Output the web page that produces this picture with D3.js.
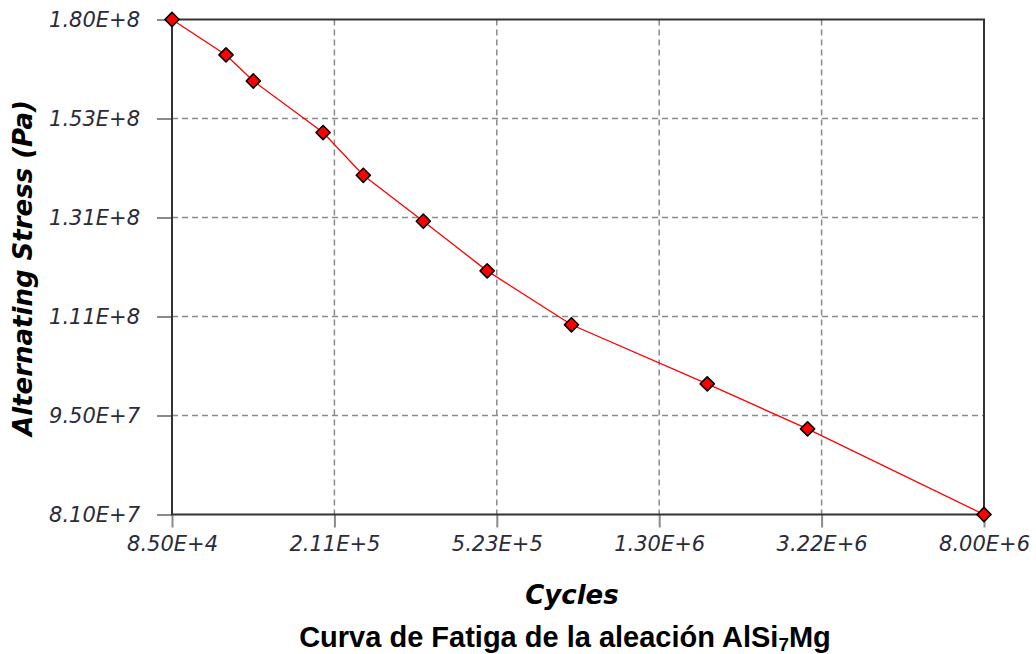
<!DOCTYPE html>
<html><head><meta charset="utf-8">
<script src="https://cdn.jsdelivr.net/npm/d3@7"></script>
<style>body{margin:0;background:#fff}svg{display:block}</style>
</head><body>
<script>
const cycles = [8.5e4, 1.15e5, 1.34e5, 1.98e5, 2.48e5, 3.47e5, 4.96e5, 7.95e5, 1.70e6, 2.98e6, 8.0e6];
const stress = [1.80e8, 1.70e8, 1.63e8, 1.50e8, 1.40e8, 1.30e8, 1.20e8, 1.10e8, 1.00e8, 9.30e7, 8.10e7];
const xTickLabels = ["8.50E+4", "2.11E+5", "5.23E+5", "1.30E+6", "3.22E+6", "8.00E+6"];
const yTickLabels = ["8.10E+7", "9.50E+7", "1.11E+8", "1.31E+8", "1.53E+8", "1.80E+8"];
const xDomain = [8.5e4, 8.0e6];
const yDomain = [8.1e7, 1.8e8];

const W = 1036, H = 654;
const m = {left: 172, right: 1036 - 984, top: 19.5, bottom: 654 - 514.5};
const svg = d3.select("body").append("svg").attr("width", W).attr("height", H);

const x = d3.scaleLog().domain(xDomain).range([m.left, W - m.right]);
const y = d3.scaleLog().domain(yDomain).range([H - m.bottom, m.top]);

const nT = xTickLabels.length;
const xTicks = xTickLabels.map((_, i) => xDomain[0] * Math.pow(xDomain[1] / xDomain[0], i / (nT - 1)));
const yTicks = yTickLabels.map((_, i) => yDomain[0] * Math.pow(yDomain[1] / yDomain[0], i / (nT - 1)));

// grid
const grid = svg.append("g");
grid.selectAll(".gx").data(xTicks.slice(1, -1)).join("line")
  .attr("x1", d => x(d)).attr("x2", d => x(d))
  .attr("y1", m.top).attr("y2", H - m.bottom)
  .attr("stroke", "#8a8a8a").attr("stroke-width", 1.5).attr("stroke-dasharray", "6,4");
grid.selectAll(".gy").data(yTicks.slice(1, -1)).join("line")
  .attr("y1", d => y(d)).attr("y2", d => y(d))
  .attr("x1", m.left).attr("x2", W - m.right)
  .attr("stroke", "#8a8a8a").attr("stroke-width", 1.5).attr("stroke-dasharray", "6,4");

// axes
const xAxis = d3.axisBottom(x).tickValues(xTicks).tickSize(13).tickPadding(9)
  .tickFormat((d, i) => xTickLabels[i]);
const yAxis = d3.axisLeft(y).tickValues(yTicks).tickSize(15).tickPadding(17)
  .tickFormat((d, i) => yTickLabels[i]);

const gx = svg.append("g").attr("transform", `translate(0,${H - m.bottom})`).call(xAxis);
const gy = svg.append("g").attr("transform", `translate(${m.left},0)`).call(yAxis);
[gx, gy].forEach(g => {
  g.select(".domain").remove();
  g.selectAll(".tick line").attr("stroke", "#8a8a8a").attr("stroke-width", 2);
  g.selectAll(".tick text").attr("fill", "#2b2b3a")
    .style("font-family", "'DejaVu Sans', Verdana, sans-serif")
    .style("font-style", "italic").style("font-size", "21px");
});

// frame
svg.append("rect").attr("x", m.left).attr("y", m.top)
  .attr("width", W - m.right - m.left).attr("height", H - m.bottom - m.top)
  .attr("fill", "none").attr("stroke", "#333").attr("stroke-width", 2);

// line
const pts = cycles.map((c, i) => [c, stress[i]]);
svg.append("path").datum(pts)
  .attr("fill", "none").attr("stroke", "#ff0000").attr("stroke-width", 1.3)
  .attr("d", d3.line().x(d => x(d[0])).y(d => y(d[1])));

// markers
svg.selectAll(".mk").data(pts).join("path")
  .attr("transform", d => `translate(${x(d[0])},${y(d[1])}) rotate(45)`)
  .attr("d", d3.symbol().type(d3.symbolSquare).size(100))
  .attr("fill", "#ff0000").attr("stroke", "#000").attr("stroke-width", 1.6)
  .attr("stroke-linejoin", "round");

// axis titles
svg.append("text").attr("x", 572).attr("y", 604).attr("text-anchor", "middle")
  .style("font-family", "'DejaVu Sans', Verdana, sans-serif").style("font-weight", "bold")
  .style("font-style", "italic").style("font-size", "26px").text("Cycles");
svg.append("text").attr("transform", `translate(32,268) rotate(-90)`).attr("text-anchor", "middle")
  .style("font-family", "'DejaVu Sans', Verdana, sans-serif").style("font-weight", "bold")
  .style("font-style", "italic").style("font-size", "26px").text("Alternating Stress (Pa)");

// chart title
const t = svg.append("text").attr("x", 565).attr("y", 647).attr("text-anchor", "middle")
  .style("font-family", "'Liberation Sans', Arial, sans-serif").style("font-weight", "bold")
  .style("font-size", "29px");
t.append("tspan").text("Curva de Fatiga de la aleación AlSi");
t.append("tspan").attr("font-size", "19px").attr("dy", 4).text("7");
t.append("tspan").attr("dy", -4).text("Mg");
</script>
</body></html>
